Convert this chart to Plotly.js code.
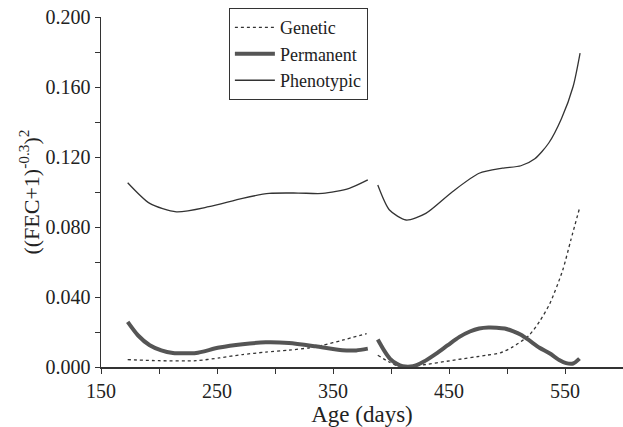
<!DOCTYPE html>
<html>
<head>
<meta charset="utf-8">
<script src="https://cdn.plot.ly/plotly-3.0.1.min.js"></script>
<style>html,body{margin:0;padding:0;background:#fff;}#chart{width:623px;height:427px;}</style>
</head>
<body>
<div id="chart"></div>
<script>
// Genetic variance
var geneticAge1 = [173, 200, 232, 252, 272, 292, 312, 330, 341, 358, 379];
var geneticVal1 = [0.0042, 0.0036, 0.0036, 0.0052, 0.0071, 0.0085, 0.0096, 0.0110, 0.0124, 0.0153, 0.0191];
var geneticAge2 = [388.6, 398, 407, 425, 453, 482, 494, 505, 519, 528, 537, 548, 555, 562.5];
var geneticVal2 = [0.0067, 0.0030, 0.0004, 0.0010, 0.0038, 0.0067, 0.0080, 0.0115, 0.0181, 0.0260, 0.0363, 0.0553, 0.0725, 0.0907];

// Permanent environment variance
var permAge1 = [173, 182, 192, 202, 212, 222, 232, 252, 272, 292, 312, 335, 358, 370, 380];
var permVal1 = [0.0258, 0.0180, 0.0124, 0.0095, 0.0080, 0.0078, 0.0080, 0.0111, 0.0130, 0.0141, 0.0137, 0.0118, 0.0096, 0.0095, 0.0105];
var permAge2 = [388.6, 394, 399, 405, 410, 419, 428, 439, 449, 459, 468, 476, 484, 491, 498, 505, 512, 519, 528, 537, 545, 551, 557, 562.5];
var permVal2 = [0.0157, 0.0095, 0.0048, 0.0018, 0.0004, 0.0004, 0.0030, 0.0077, 0.0125, 0.0172, 0.0203, 0.0220, 0.0226, 0.0225, 0.0220, 0.0205, 0.0185, 0.0153, 0.0110, 0.0077, 0.0040, 0.0022, 0.0020, 0.0048];

// Phenotypic variance
var phenoAge1 = [173, 192, 215, 243, 272, 295, 320, 341, 364, 380];
var phenoVal1 = [0.1053, 0.0935, 0.0887, 0.0916, 0.0964, 0.0992, 0.0994, 0.0992, 0.1021, 0.1069];
var phenoAge2 = [388.6, 398.7, 413, 430, 453, 476, 496, 512, 524, 536, 547, 557, 563];
var phenoVal2 = [0.1040, 0.0897, 0.0840, 0.0878, 0.1002, 0.1107, 0.1136, 0.1150, 0.1190, 0.1280, 0.1420, 0.1603, 0.1794];

var seriesNames = ['Genetic', 'Permanent', 'Phenotypic'];
var xTickVals = [150, 250, 350, 450, 550];
var yTickVals = [0, 0.04, 0.08, 0.12, 0.16, 0.2];

function join(a1, v1, a2, v2) {
  return {x: a1.concat([null]).concat(a2), y: v1.concat([null]).concat(v2)};
}

var g = join(geneticAge1, geneticVal1, geneticAge2, geneticVal2);
var p = join(permAge1, permVal1, permAge2, permVal2);
var f = join(phenoAge1, phenoVal1, phenoAge2, phenoVal2);

var serif = 'Liberation Serif';

var traces = [
  {x: g.x, y: g.y, name: seriesNames[0], mode: 'lines', connectgaps: false,
   line: {color: '#333', width: 1.3, dash: 'dot', shape: 'spline', smoothing: 0.7}},
  {x: p.x, y: p.y, name: seriesNames[1], mode: 'lines', connectgaps: false,
   line: {color: '#555', width: 4, shape: 'spline', smoothing: 0.7}},
  {x: f.x, y: f.y, name: seriesNames[2], mode: 'lines', connectgaps: false,
   line: {color: '#333', width: 1.3, shape: 'spline', smoothing: 0.7}}
];

var layout = {
  width: 623, height: 427,
  margin: {l: 101, r: 0, t: 17, b: 60},
  paper_bgcolor: '#fff', plot_bgcolor: '#fff',
  font: {family: serif, color: '#222', size: 19},
  showlegend: true,
  legend: {
    x: 0.245, y: 1.025, xanchor: 'left', yanchor: 'top',
    bgcolor: '#fff', bordercolor: '#333', borderwidth: 1,
    font: {family: serif, size: 18, color: '#222'},
    itemwidth: 40, tracegroupgap: 0
  },
  xaxis: {
    range: [150, 600], tickvals: xTickVals, ticktext: xTickVals.map(String),
    ticks: 'outside', ticklen: 5, tickwidth: 1, tickcolor: '#333',
    minor: {dtick: 50, tick0: 150, ticks: 'outside', ticklen: 5, tickcolor: '#333', showgrid: false},
    showline: true, linecolor: '#333', linewidth: 1.5, showgrid: false, zeroline: false,
    tickfont: {family: serif, size: 20, color: '#222'},
    title: {text: 'Age (days)', font: {family: serif, size: 23, color: '#222'}, standoff: 6}
  },
  yaxis: {
    range: [0, 0.2], tickvals: yTickVals, ticktext: yTickVals.map(function(v){return v.toFixed(3);}),
    ticks: 'outside', ticklen: 5, tickwidth: 1, tickcolor: '#333',
    minor: {dtick: 0.02, tick0: 0, ticks: 'outside', ticklen: 5, tickcolor: '#333', showgrid: false},
    showline: true, linecolor: '#333', linewidth: 1.5, showgrid: false, zeroline: false,
    tickfont: {family: serif, size: 20, color: '#222'},
    title: {text: '((FEC+1)<sup>-0.3</sup>)<sup>2</sup>', font: {family: serif, size: 22, color: '#222'}, standoff: 0}
  }
};

Plotly.newPlot('chart', traces, layout, {staticPlot: true, displayModeBar: false});
</script>
</body>
</html>
